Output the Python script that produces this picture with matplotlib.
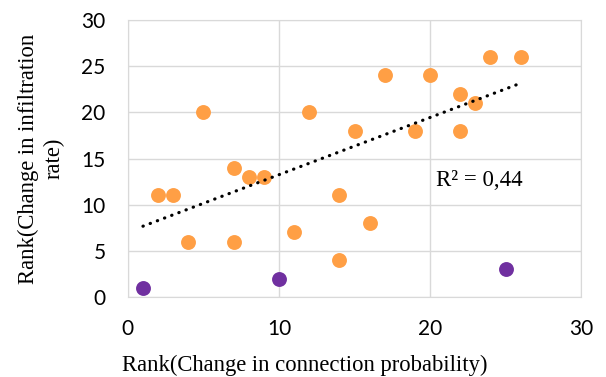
import numpy as np
import matplotlib.pyplot as plt

# ranks
orange_x = [2, 3, 4, 5, 7, 7, 8, 9, 11, 12, 14, 14, 15, 16, 17, 19, 20, 22, 22, 23, 24, 26]
orange_y = [11, 11, 6, 20, 14, 6, 13, 13, 7, 20, 11, 4, 18, 8, 24, 18, 24, 22, 18, 21, 26, 26]
purple_x = [1, 10, 25]
purple_y = [1, 2, 3]

xticks = [0, 10, 20, 30]
yticks = [0, 5, 10, 15, 20, 25, 30]

# trend fitted on the orange series, drawn over the whole rank range
slope, icept = np.polyfit(orange_x, orange_y, 1)
tx = np.array([min(orange_x + purple_x), max(orange_x + purple_x)])

fig = plt.figure(figsize=(6.06, 3.77), dpi=100)
ax = fig.add_axes([0.211, 0.212, 0.748, 0.735])

ax.grid(True, color='#d9d9d9', linewidth=1)
ax.set_axisbelow(True)
for s in ax.spines.values():
    s.set_color('#d9d9d9')

ax.scatter(orange_x, orange_y, s=115, color='#ff9f45', zorder=3, linewidths=0)
ax.scatter(purple_x, purple_y, s=115, color='#7030a0', zorder=3, linewidths=0)

ax.plot(tx, slope*tx + icept, color='black', linestyle=(0, (0.1, 2.3)),
        dash_capstyle='round', linewidth=2.3, zorder=4)

ax.set_xlim(0, 30)
ax.set_ylim(0, 30)
ax.set_xticks(xticks)
ax.set_yticks(yticks)
ax.tick_params(length=0, labelsize=15)
ax.tick_params(axis='y', pad=16)
ax.tick_params(axis='x', pad=16)
for lab in ax.get_xticklabels() + ax.get_yticklabels():
    lab.set_family('Lato')

ax.text(20.4, 12.6, 'R² = 0,44', fontsize=16.5, family='Liberation Serif',
        va='center')

# axis titles sit centred on the chart area like the original
ax.set_xlabel('Rank(Change in connection probability)', fontsize=16.3,
              family='Liberation Serif')
ax.xaxis.label.set_va('baseline')
ax.xaxis.set_label_coords(0.39, -0.268)
ax.set_ylabel('Rank(Change in infiltration\nrate)', fontsize=16.3,
              family='Liberation Serif', labelpad=12, linespacing=1.3)

fig.savefig('out.png', dpi=100)
